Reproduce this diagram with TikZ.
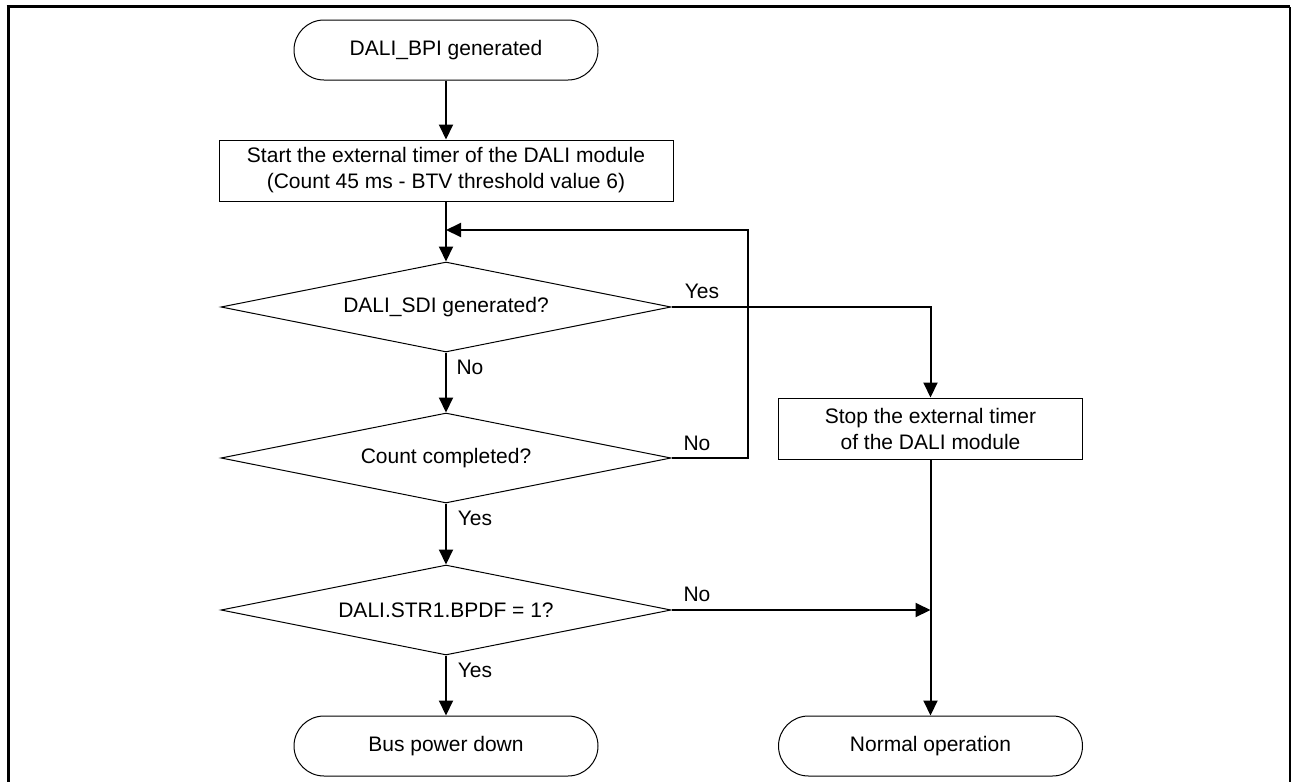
\documentclass[tikz,border=0pt]{standalone}
\usepackage{fontspec}
\setmainfont{Liberation Sans}
\usetikzlibrary{arrows.meta,shapes.geometric}
\tikzset{
  every node/.style={font=\fontsize{21}{26}\selectfont},
  term/.style={draw,line width=1pt,rounded corners=30pt,minimum width=304pt,minimum height=60pt,inner sep=0pt},
  procbox/.style={draw,line width=1pt,minimum height=61pt,inner sep=0pt,align=center},
  decis/.style={draw,diamond,aspect=5,line width=1pt,minimum width=450pt,minimum height=90pt,inner sep=0pt},
  conn/.style={line width=2pt,-{Triangle[length=15pt,width=14pt]}},
  plain/.style={line width=2pt},
  lbl/.style={inner sep=0pt}
}
\begin{document}
\begin{tikzpicture}[x=1pt,y=-1pt]
\useasboundingbox (0,0) rectangle (1291,782);
% frame
\draw[line width=3.2pt] (8.3,782) -- (8.3,6.8);
\draw[line width=3pt] (6.7,6.8) -- (1290,6.8);
\draw[line width=1.3pt] (1290,6.8) -- (1290,782);
% nodes
\node[term] (start) at (446,50) {DALI\_BPI generated};
\node[procbox,minimum width=454pt] (timer) at (446,170.5) {Start the external timer of the DALI module\\(Count 45 ms - BTV threshold value 6)};
\node[decis] (sdi) at (446,307) {DALI\_SDI generated?};
\node[decis] (cnt) at (446,458) {Count completed?};
\node[decis] (bpdf) at (446,610) {DALI.STR1.BPDF = 1?};
\node[procbox,minimum width=304pt] (stop) at (930.5,428.5) {Stop the external timer\\of the DALI module};
\node[term] (bpd) at (446,746) {Bus power down};
\node[term] (norm) at (930.5,746) {Normal operation};
\coordinate (loopin) at (446,230);
\coordinate (join) at (930.5,610);
% connectors
\draw[conn] (start) -- (timer);
\draw[plain] (timer.south) -- (loopin);
\draw[conn] (loopin) -- (sdi.north);
\draw[conn] (sdi.south) -- (cnt.north);
\draw[conn] (cnt.south) -- (bpdf.north);
\draw[conn] (bpdf.south) -- (bpd.north);
\draw[conn] (cnt.east) -- (748,458) -- (748,230) -- (loopin);
\draw[conn] (sdi.east) -| (stop.north);
\draw[conn] (stop.south) -- (norm.north);
\draw[conn] (bpdf.east) -- (join);
% labels
\node[lbl] (l1) at (702,291) {Yes};
\node[lbl] (l2) at (470,367) {No};
\node[lbl] (l3) at (697,443) {No};
\node[lbl] (l4) at (475,518) {Yes};
\node[lbl] (l5) at (697,594) {No};
\node[lbl] (l6) at (475,670) {Yes};
\end{tikzpicture}
\end{document}
